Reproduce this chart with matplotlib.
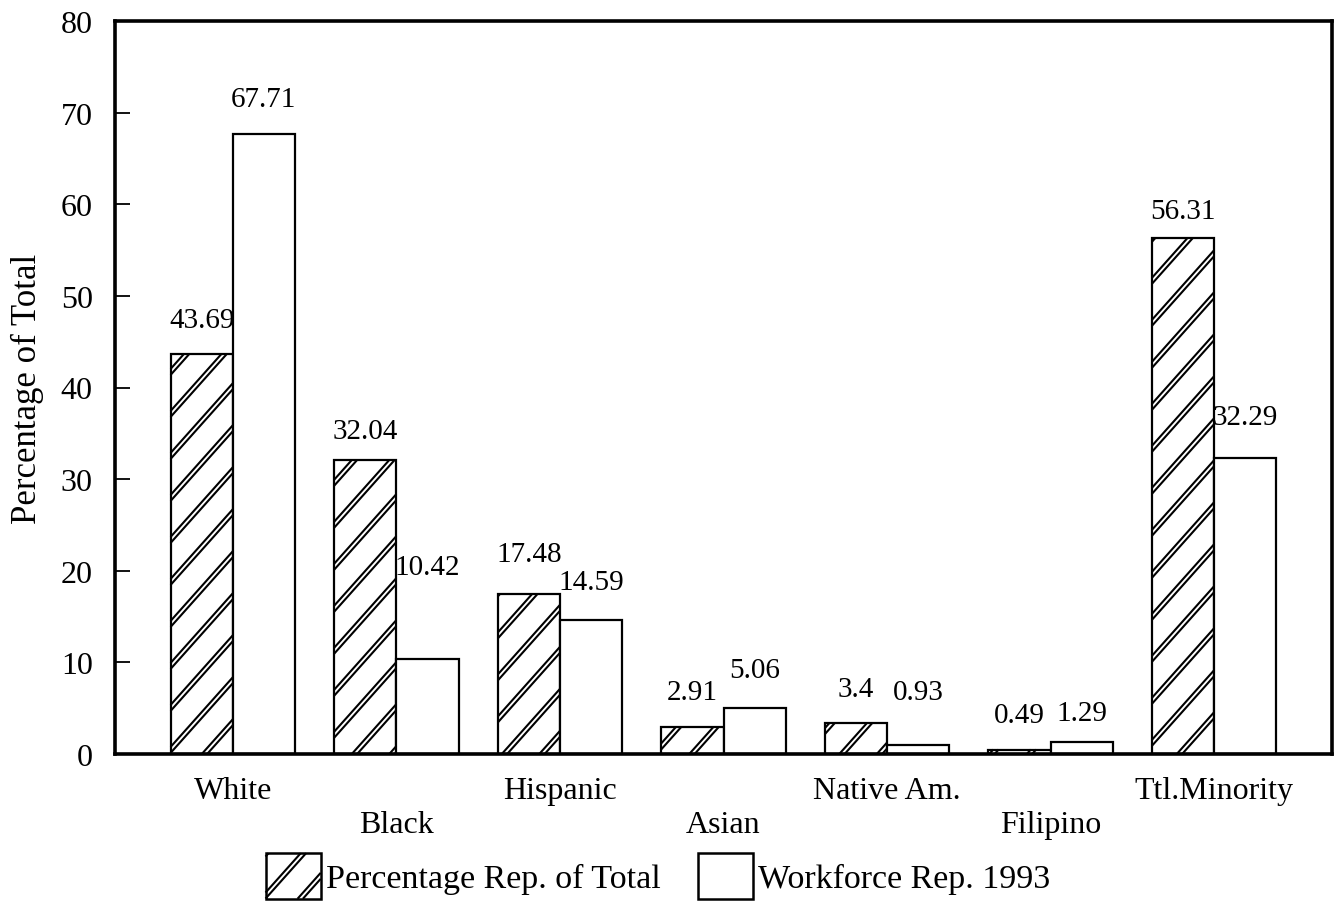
import numpy as np
import matplotlib
matplotlib.use("Agg")
import matplotlib.pyplot as plt
from matplotlib.collections import LineCollection
from matplotlib.transforms import IdentityTransform
from matplotlib.patches import Rectangle
from matplotlib.legend_handler import HandlerPatch

# ---------------- data ----------------
categories = ["White", "Black", "Hispanic", "Asian", "Native Am.", "Filipino", "Ttl.Minority"]
pct_rep_total = [43.69, 32.04, 17.48, 2.91, 3.4, 0.49, 56.31]
workforce_1993 = [67.71, 10.42, 14.59, 5.06, 0.93, 1.29, 32.29]
pct_labels = ["43.69", "32.04", "17.48", "2.91", "3.4", "0.49", "56.31"]
wf_labels = ["67.71", "10.42", "14.59", "5.06", "0.93", "1.29", "32.29"]
series_names = ["Percentage Rep. of Total", "Workforce Rep. 1993"]
y_ticks = [0, 10, 20, 30, 40, 50, 60, 70, 80]
y_label = "Percentage of Total"

# ---------------- style ----------------
plt.rcParams['font.family'] = ['Liberation Serif', 'DejaVu Serif']
DPI = 100
fig = plt.figure(figsize=(13.35, 9.03), dpi=DPI)
ax = fig.add_axes([115/1335, 1-755/903, (1332-115)/1335, (755-22)/903])

x = np.arange(len(categories))
w = 0.38
bars_h = ax.bar(x - w/2, pct_rep_total, width=w, facecolor='white', edgecolor='black', linewidth=1.6, zorder=2)
bars_w = ax.bar(x + w/2, workforce_1993, width=w, facecolor='white', edgecolor='black', linewidth=1.6, zorder=2)

ax.set_xlim(-0.72, len(categories) - 1 + 0.72)
ax.set_ylim(0, 80)
ax.set_yticks(y_ticks)
ax.set_yticklabels([str(t) for t in y_ticks], fontsize=23)
ax.tick_params(axis='y', direction='in', length=11, width=1.3, pad=16)
ax.set_ylabel(y_label, fontsize=25, labelpad=12)

even = x[::2]
odd = x[1::2]
ax.set_xticks(even)
ax.set_xticklabels([categories[i] for i in even], fontsize=23)
ax.set_xticks(odd, minor=True)
ax.set_xticklabels([categories[i] for i in odd], minor=True, fontsize=23)
ax.tick_params(axis='x', which='both', length=0)
ax.tick_params(axis='x', which='major', pad=16)
ax.tick_params(axis='x', which='minor', pad=40)

for s in ax.spines.values():
    s.set_linewidth(2.6)

# value labels (pixel offsets of label centre above bar top)
off_h = [34, 29, 40, 35, 34, 35, 27]
off_w = [35, 92, 38, 38, 53, 29, 41]
pt = 72.0 / DPI
for i in range(len(categories)):
    ax.annotate(pct_labels[i], (x[i] - w/2, pct_rep_total[i]), xytext=(0, off_h[i]*pt),
                textcoords='offset points', ha='center', va='center', fontsize=21)
    ax.annotate(wf_labels[i], (x[i] + w/2, workforce_1993[i]), xytext=(0, off_w[i]*pt),
                textcoords='offset points', ha='center', va='center', fontsize=21)

# legend
class HandlerBox(HandlerPatch):
    def create_artists(self, legend, orig_handle, xdescent, ydescent, width, height, fontsize, trans):
        r = Rectangle((-xdescent, -ydescent), width, height, facecolor='white',
                      edgecolor='black', linewidth=1.8, transform=trans)
        return [r]

proxy_h = Rectangle((0, 0), 1, 1, facecolor='white', edgecolor='black')
proxy_w = Rectangle((0, 0), 1, 1, facecolor='white', edgecolor='black')
leg = fig.legend([proxy_h, proxy_w], series_names, loc='center', bbox_to_anchor=(658/1335, 1-877/903),
                 ncol=2, frameon=False, fontsize=24.5,
                 handlelength=1.62, handleheight=1.68,
                 handletextpad=0.15, columnspacing=1.1, borderpad=0,
                 handler_map={Rectangle: HandlerBox()})

fig.canvas.draw()

# manual double-line hatch in display pixels
def hatch_segments(x0, y0, x1, y1, spacing=42.0, gap=6.0, slope=1.12):
    segs = []
    cmin = y0 - slope*x1
    cmax = y1 - slope*x0
    k0 = int(np.floor(cmin / spacing)) - 1
    k1 = int(np.ceil(cmax / spacing)) + 1
    for k in range(k0, k1 + 1):
        for c in (k*spacing, k*spacing + gap):
            xa = max(x0, (y0 - c)/slope)
            xb = min(x1, (y1 - c)/slope)
            if xb > xa:
                segs.append([(xa, slope*xa + c), (xb, slope*xb + c)])
    return segs

all_segs = []
for b in bars_h:
    bb = b.get_window_extent()
    all_segs += hatch_segments(bb.x0, bb.y0, bb.x1, bb.y1)
leg_patches = leg.get_patches()
if leg_patches:
    bb = leg_patches[0].get_window_extent()
    all_segs += hatch_segments(bb.x0, bb.y0, bb.x1, bb.y1)
lc = LineCollection(all_segs, colors='black', linewidths=1.5, transform=IdentityTransform(), zorder=20)
fig.add_artist(lc)

fig.savefig("out.png", dpi=DPI)
